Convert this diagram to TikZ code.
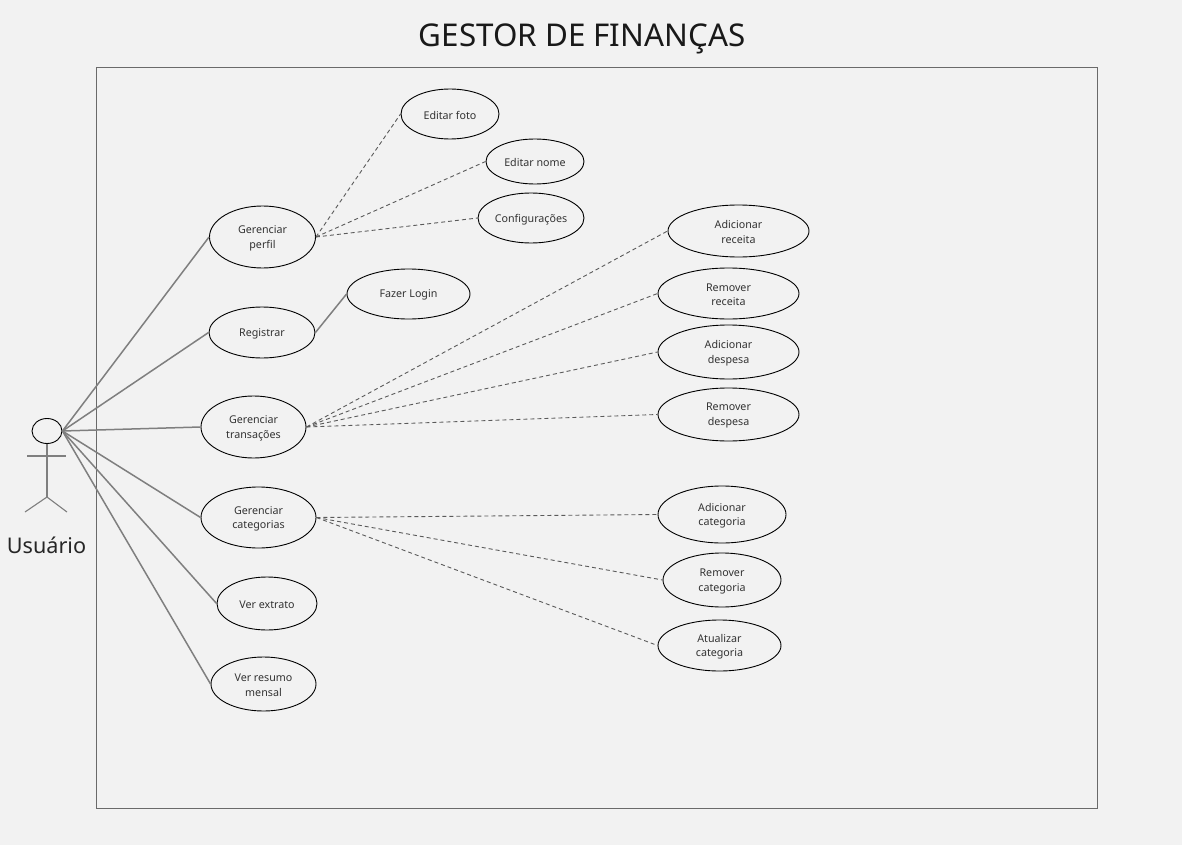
\documentclass[tikz,border=0pt]{standalone}
\usepackage{fontspec}
\setmainfont{Noto Sans}
\usetikzlibrary{shapes.geometric}
\definecolor{bgc}{HTML}{F2F2F2}
\definecolor{solidc}{HTML}{7F7F7F}
\definecolor{dashc}{HTML}{5A5A5A}
\definecolor{inkc}{HTML}{333333}
\definecolor{framec}{HTML}{6A6A6A}
\tikzset{
  uc/.style={ellipse,draw=black,line width=0.9pt,inner sep=0pt},
  uctext/.style={align=center,text=inkc,inner sep=0pt,yshift=-1.2pt,font=\fontsize{10.7}{14.6}\selectfont},
  ucsingle/.style={uctext,yshift=-0.4pt},
  assoc/.style={draw=solidc,line width=1.5pt},
  dep/.style={draw=dashc,line width=0.9pt,dash pattern=on 4pt off 3pt},
  stick/.style={draw=solidc,line width=1.1pt},
}
\newcommand{\usecase}[6]{\node[uc,minimum width=#4pt,minimum height=#5pt,label={[uctext]center:{#6}}] (#1) at (#2,#3) {};}
\newcommand{\usecasesingle}[6]{\node[uc,minimum width=#4pt,minimum height=#5pt,label={[ucsingle]center:{#6}}] (#1) at (#2,#3) {};}
\begin{document}
\begin{tikzpicture}[x=1pt,y=-1pt]
\useasboundingbox (0,0) rectangle (1182,845);
\fill[bgc] (0,0) rectangle (1182,845);
\node[draw=framec,line width=1pt,minimum width=1001pt,minimum height=740pt,inner sep=0pt] (frame) at (596.5,438) {};
\node[text=black!90,font=\fontsize{31.35}{36}\selectfont,inner sep=0pt] (title) at (582,39) {GESTOR DE FINANÇAS};
% actor
\node[ellipse,draw=black,line width=0.9pt,minimum width=30pt,minimum height=25pt,inner sep=0pt] (head) at (47,431) {};
\coordinate (hip) at (47,497);
\coordinate (armL) at (27,456);
\coordinate (armR) at (66,456);
\coordinate (legL) at (25,512);
\coordinate (legR) at (67,512);
\draw[stick] (head.south) -- (hip);
\draw[stick] (armL) -- (armR);
\draw[stick] (legL) -- (hip) -- (legR);
\node[text=black!85,font=\fontsize{21.6}{24}\selectfont,inner sep=0pt] (lbl) at (46.5,545) {Usuário};
% use cases
\usecasesingle{foto}{450}{114}{98}{50}{Editar foto}
\usecase{nome}{535}{161.5}{98}{45}{Editar nome}
\usecase{conf}{531}{218}{106}{50}{Configurações}
\usecase{perfil}{262.5}{237}{106}{62}{Gerenciar\\perfil}
\usecase{reg}{262}{332.5}{106}{51}{Registrar}
\usecase{login}{408.5}{294}{123}{50}{Fazer Login}
\usecase{addrec}{738.5}{231}{141}{52}{Adicionar\\receita}
\usecase{remrec}{728.5}{293.5}{141}{51}{Remover\\receita}
\usecase{adddes}{728.5}{352}{141}{54}{Adicionar\\despesa}
\usecase{remdes}{728.5}{414.5}{141}{53}{Remover\\despesa}
\usecase{trans}{253.5}{427}{105}{62}{Gerenciar\\transações}
\usecase{cats}{258.5}{517.5}{115}{61}{Gerenciar\\categorias}
\usecase{extr}{267}{603.5}{100}{53}{Ver extrato}
\usecase{resumo}{263.5}{684}{105}{54}{Ver resumo\\mensal}
\usecase{addcat}{722}{514.5}{128}{57}{Adicionar\\categoria}
\usecase{remcat}{722}{580}{118}{54}{Remover\\categoria}
\usecase{atucat}{719.5}{645.5}{123}{51}{Atualizar\\categoria}
% associations
\foreach \t in {perfil,reg,trans,cats,extr,resumo} \draw[assoc] (head.east) -- (\t.west);
\draw[assoc] (reg.east) -- (login.west);
% dependencies
\foreach \t in {foto,nome,conf} \draw[dep] (perfil.east) -- (\t.west);
\foreach \t in {addrec,remrec,adddes,remdes} \draw[dep] (trans.east) -- (\t.west);
\foreach \t in {addcat,remcat,atucat} \draw[dep] (cats.east) -- (\t.west);
\end{tikzpicture}
\end{document}
